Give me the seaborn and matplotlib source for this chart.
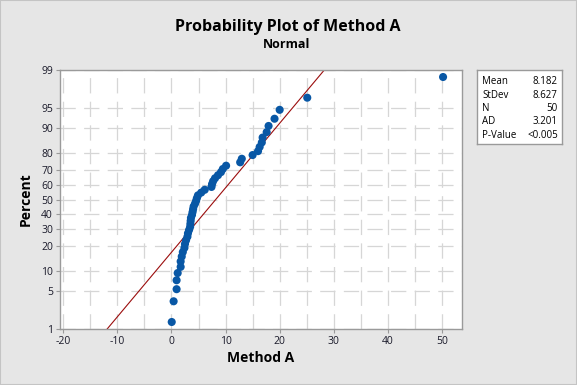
import numpy as np
import pandas as pd
import matplotlib
matplotlib.use("Agg")
import matplotlib.pyplot as plt
import seaborn as sns
from statistics import NormalDist

# sorted Method A values (n = 50)
method_a = [0.05, 0.4, 0.95, 0.95, 1.15, 1.7, 1.7, 1.9, 2.1, 2.4,
            2.5, 2.7, 2.95, 3.05, 3.25, 3.45, 3.5, 3.55, 3.6, 3.8,
            3.9, 4.0, 4.1, 4.35, 4.55, 4.7, 4.9, 5.5, 6.15, 7.4,
            7.5, 7.7, 8.05, 8.6, 9.15, 9.5, 10.1, 12.7, 13.0, 15.0,
            16.0, 16.3, 16.7, 16.85, 17.6, 17.95, 19.05, 20.0, 25.1, 50.2]

stat_names = ["Mean", "StDev", "N", "AD", "P-Value"]
stat_values = ["8.182", "8.627", "50", "3.201", "<0.005"]
fit_mean = 8.182
fit_sd = 8.627

x_ticks = [-20, -10, 0, 10, 20, 30, 40, 50]
y_ticks = [1, 5, 10, 20, 30, 40, 50, 60, 70, 80, 90, 95, 99]

nd = NormalDist()
n = len(method_a)
pct = [100 * (i - 0.3) / (n + 0.4) for i in range(1, n + 1)]
df = pd.DataFrame({"Method A": method_a, "Percent": pct})


def fwd(p):
    p = np.clip(np.asarray(p, dtype=float), 1e-6, 100 - 1e-6)
    return np.array([nd.inv_cdf(v / 100) for v in p.ravel()]).reshape(p.shape)


def inv(z):
    z = np.asarray(z, dtype=float)
    return np.array([100 * nd.cdf(v) for v in z.ravel()]).reshape(z.shape)


plt.rcParams["font.family"] = ["Open Sans", "DejaVu Sans"]
plt.rcParams["lines.scale_dashes"] = False

bg = "#e6e6e6"
fig = plt.figure(figsize=(5.77, 3.85), dpi=100, facecolor=bg)
ax = fig.add_axes([60 / 577, 56 / 385, 402 / 577, 259 / 385])
ax.set_facecolor("white")
ax.set_yscale("function", functions=(fwd, inv))
ax.set_xlim(-20.6, 53.7)
ax.set_ylim(1, 99)

# minitab-like broken grid
grid_kw = dict(color="#d6d6d6", lw=0.9, ls=(0, (11, 6)), zorder=0)
for gx in np.arange(-20, 55, 5):
    ax.axvline(gx, **grid_kw)
for gy in y_ticks:
    ax.axhline(gy, **grid_kw)

# fitted line from mean / stdev
zl = [nd.inv_cdf(0.01), nd.inv_cdf(0.99)]
fit = pd.DataFrame({"x": [fit_mean + fit_sd * z for z in zl], "p": [1, 99]})
sns.lineplot(data=fit, x="x", y="p", color="#9b0d0d", lw=0.8, ax=ax, zorder=2)

sns.scatterplot(data=df, x="Method A", y="Percent", color="#0857a5", s=34,
                edgecolor="none", ax=ax, zorder=3)

ax.set_xticks(x_ticks)
ax.set_xticklabels([str(v) for v in x_ticks])
ax.set_yticks(y_ticks)
ax.set_yticklabels([str(v) for v in y_ticks])
ax.minorticks_off()
ax.tick_params(length=3, width=0.8, color="#9a9a9a", labelsize=7.5,
               labelcolor="#1a1a2a", pad=2)
for s in ax.spines.values():
    s.set_color("#9a9a9a")
    s.set_linewidth(1.0)
ax.set_xlabel("Method A", fontsize=10, fontweight="bold", labelpad=3)
ax.set_ylabel("Percent", fontsize=10, fontweight="bold", labelpad=6)

fig.text(0.499, 1 - 27 / 385, "Probability Plot of Method A",
         ha="center", va="center", fontsize=11.5, fontweight="bold")
fig.text(0.497, 1 - 45 / 385, "Normal",
         ha="center", va="center", fontsize=9, fontweight="bold")

# statistics box
bx = fig.add_axes([477 / 577, 1 - 144 / 385, 85 / 577, 74 / 385])
bx.set_xticks([])
bx.set_yticks([])
bx.set_facecolor("white")
for s in bx.spines.values():
    s.set_color("#9a9a9a")
    s.set_linewidth(1.0)
rows_y = [81, 95, 108.5, 122, 136]
for name, val, ry in zip(stat_names, stat_values, rows_y):
    yy = 1 - (ry - 70) / 74
    bx.text(0.06, yy, name, transform=bx.transAxes, ha="left", va="center", fontsize=7)
    bx.text(0.95, yy, val, transform=bx.transAxes, ha="right", va="center", fontsize=7)

fig.patches.append(plt.Rectangle((0, 0), 1, 1, transform=fig.transFigure,
                                 fill=False, edgecolor="#c4c4c4", lw=1.5))

fig.savefig("out.png", dpi=100, facecolor=bg)
